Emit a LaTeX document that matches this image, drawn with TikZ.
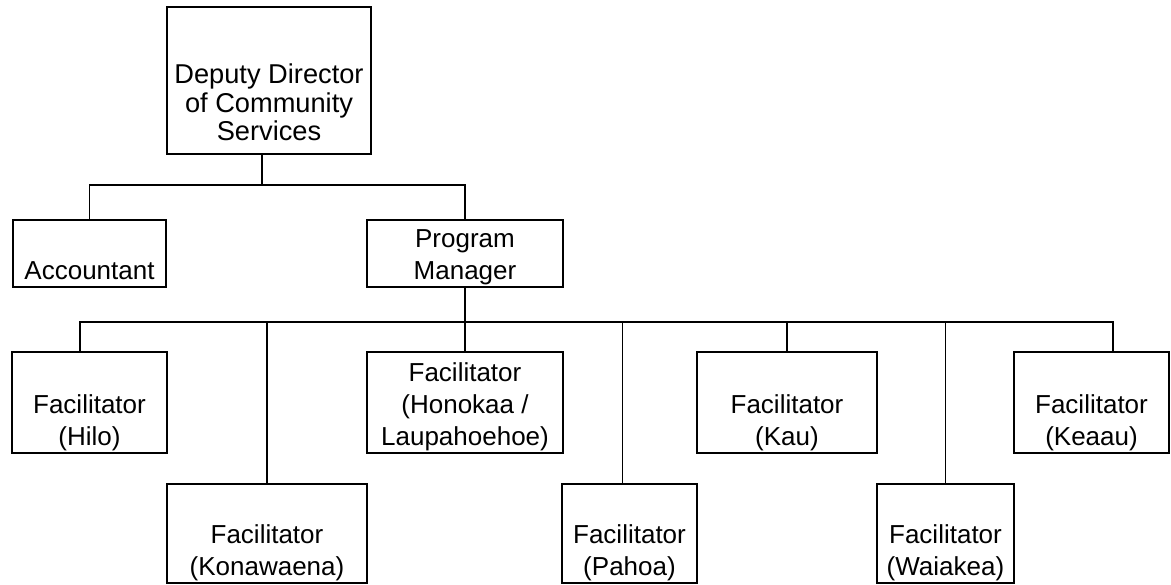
\documentclass[tikz,border=0pt]{standalone}
\usepackage{fontspec}
\setmainfont{Liberation Sans}
\usepackage{tikz}

\begin{document}
\begin{tikzpicture}[
    x=0.02cm, y=-0.02cm,
    unit/.style={
      draw,
      line width=1.6pt,
      inner sep=0pt,
      minimum width=#1
    },
    caption/.style={
      font=\fontsize{14.8}{18}\selectfont,
      align=center,
      anchor=south,
      inner sep=0pt
    },
    link/.style={
      line width=0.9pt
    }
  ]

  \useasboundingbox (0,0) rectangle (1171,585);

  % head of the chart
  \node[unit=4.08cm, minimum height=2.94cm] (ddcs) at (269,80.5) {};
  \node[caption, font=\fontsize{15.5}{16.4}\selectfont] (ddcs-t) at ([yshift=7.9pt]ddcs.south)
    {Deputy Director\\of Community\\Services};

  % second level
  \node[unit=3.06cm, minimum height=1.34cm] (acct) at (89.5,253.5) {};
  \node[caption] (acct-t) at ([yshift=5pt]acct.south) {Accountant};
  \node[unit=3.92cm, minimum height=1.34cm] (pm) at (465,253.5) {};
  \node[caption] (pm-t) at ([yshift=2pt]pm.south) {Program\\Manager};

  % facilitators, upper row
  \node[unit=3.10cm, minimum height=2.02cm] (hilo) at (89.5,402.5) {};
  \node[caption] (hilo-t) at ([yshift=2pt]hilo.south) {Facilitator\\(Hilo)};
  \node[unit=3.92cm, minimum height=2.02cm] (honokaa) at (465,402.5) {};
  \node[caption] (honokaa-t) at ([yshift=2pt]honokaa.south) {Facilitator\\(Honokaa /\\Laupahoehoe)};
  \node[unit=3.60cm, minimum height=2.02cm] (kau) at (787,402.5) {};
  \node[caption] (kau-t) at ([yshift=2pt]kau.south) {Facilitator\\(Kau)};
  \node[unit=3.10cm, minimum height=2.02cm] (keaau) at (1091.5,402.5) {};
  \node[caption] (keaau-t) at ([yshift=2pt]keaau.south) {Facilitator\\(Keaau)};

  % facilitators, lower row
  \node[unit=4.00cm, minimum height=1.98cm] (kona) at (267,533.5) {};
  \node[caption] (kona-t) at ([yshift=2pt]kona.south) {Facilitator\\(Konawaena)};
  \node[unit=2.70cm, minimum height=1.98cm] (pahoa) at (629.5,533.5) {};
  \node[caption] (pahoa-t) at ([yshift=2pt]pahoa.south) {Facilitator\\(Pahoa)};
  \node[unit=2.74cm, minimum height=1.98cm] (waiakea) at (945.5,533.5) {};
  \node[caption] (waiakea-t) at ([yshift=2pt]waiakea.south) {Facilitator\\(Waiakea)};

  % bus lines
  \coordinate (upper) at (262,185);
  \coordinate (lower) at (465,322);
  \coordinate (ddcs-out) at ([xshift=-0.14cm]ddcs.south);
  \coordinate (hilo-in) at ([xshift=-0.19cm]hilo.north);
  \coordinate (pahoa-in) at ([xshift=-0.14cm]pahoa.north);
  \coordinate (keaau-in) at ([xshift=0.43cm]keaau.north);

  \draw[link] (ddcs-out) -- (ddcs-out |- upper);
  \draw[link] (acct.north) |- (pm.north |- upper) -- (pm.north);

  \draw[link] (pm.south) -- (honokaa.north);
  \draw[link] (hilo-in) |- (keaau-in |- lower) -- (keaau-in);
  \draw[link] (kona.north) -- (kona.north |- lower);
  \draw[link] (pahoa-in) -- (pahoa-in |- lower);
  \draw[link] (kau.north) -- (kau.north |- lower);
  \draw[link] (waiakea.north) -- (waiakea.north |- lower);

\end{tikzpicture}
\end{document}
